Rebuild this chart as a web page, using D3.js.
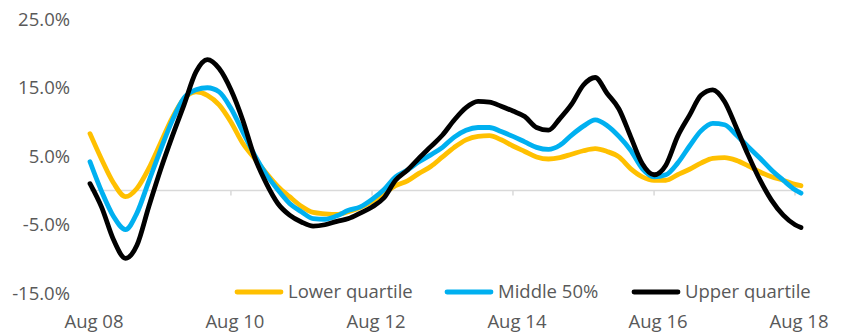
<!DOCTYPE html>
<html>
<head>
<meta charset="utf-8">
<script src="https://cdn.jsdelivr.net/npm/d3@7/dist/d3.min.js"></script>
<style>
  html, body { margin: 0; padding: 0; background: #ffffff; }
  svg { display: block; }
  text { font-family: "Open Sans", "Liberation Sans", sans-serif; fill: #595959; }
</style>
</head>
<body>
<svg id="chart" width="846" height="335"></svg>
<script>
// Annual house price growth by price band, sampled every two months (Aug 2008 onwards)
const monthOffsets = [
  0, 2, 4, 6, 8, 10, 12, 14, 16, 18, 20, 22, 24, 26, 28, 30, 32, 34, 36, 38,
  40, 42, 44, 46, 48, 50, 52, 54, 56, 58, 60, 62, 64, 66, 68, 70, 72, 74, 76, 78,
  80, 82, 84, 86, 88, 90, 92, 94, 96, 98, 100, 102, 104, 106, 108, 110, 112, 114, 116, 118,
  120, 121
];

const lowerQuartile = [
  8.3, 4.5, 1.1, -0.9, 0.3, 3.2, 6.9, 10.6, 13.4, 14.4, 13.9, 12.5, 10.0, 6.9, 4.7, 2.5, 0.6, -0.9, -2.3, -3.2,
  -3.4, -3.5, -3.1, -2.5, -1.6, -0.5, 0.7, 1.4, 2.5, 3.5, 4.9, 6.3, 7.4, 7.9, 8.0, 7.4, 6.5, 5.7, 4.9, 4.6,
  4.8, 5.3, 5.8, 6.1, 5.7, 4.9, 3.2, 2.0, 1.5, 1.5, 2.3, 3.1, 4.0, 4.7, 4.8, 4.4, 3.6, 2.7, 2.0, 1.5,
  0.9, 0.7
];

const middle50 = [
  4.2, -0.2, -3.8, -5.7, -3.3, 1.3, 5.9, 10.2, 13.5, 14.7, 15.0, 14.4, 12.0, 8.6, 5.2, 2.3, 0.1, -1.9, -3.1, -4.1,
  -4.2, -3.7, -2.9, -2.4, -1.3, 0.1, 2.0, 3.0, 4.2, 5.2, 6.3, 7.8, 8.8, 9.2, 9.2, 8.6, 7.9, 7.1, 6.3, 6.0,
  6.6, 8.1, 9.4, 10.3, 9.5, 7.9, 5.9, 3.2, 2.0, 2.3, 4.0, 6.5, 8.7, 9.8, 9.6, 8.1, 6.4, 4.7, 3.0, 1.5,
  0.1, -0.4
];

const upperQuartile = [
  1.0, -2.5, -7.2, -9.9, -8.0, -2.4, 3.0, 7.9, 12.5, 17.3, 19.1, 17.8, 14.7, 10.3, 4.9, 1.0, -1.9, -3.6, -4.6, -5.2,
  -5.0, -4.5, -4.1, -3.3, -2.4, -1.1, 1.5, 3.0, 4.7, 6.4, 8.1, 10.3, 12.1, 13.0, 12.9, 12.3, 11.6, 10.8, 9.2, 8.8,
  10.5, 12.6, 15.4, 16.5, 14.2, 11.9, 7.9, 3.9, 2.3, 3.7, 7.9, 11.0, 13.9, 14.7, 13.0, 9.2, 5.2, 1.5, -1.4, -3.6,
  -5.0, -5.4
];

const seriesNames = ["Lower quartile", "Middle 50%", "Upper quartile"];
const seriesColors = ["#FFC000", "#00B0F0", "#000000"];
const yTickValues = [-15, -5, 5, 15, 25];
const xTickYears = [2008, 2010, 2012, 2014, 2016, 2018];
const xTickLabels = ["Aug 08", "Aug 10", "Aug 12", "Aug 14", "Aug 16", "Aug 18"];

const startDate = new Date(Date.UTC(2008, 7, 1));
const monthDate = m => new Date(Date.UTC(2008, 7 + m, 1));

const series = [lowerQuartile, middle50, upperQuartile].map((vals, i) => ({
  name: seriesNames[i],
  color: seriesColors[i],
  points: vals.map((v, j) => ({ date: monthDate(monthOffsets[j]), value: v }))
}));

const svg = d3.select("#chart");

const x = d3.scaleUtc()
  .domain([startDate, new Date(Date.UTC(2018, 7, 1))])
  .range([90, 795]);

const y = d3.scaleLinear()
  .domain([-15, 25])
  .range([293.25, 19.25]);

// Zero baseline with tick marks every two years
const lastDate = monthDate(monthOffsets[monthOffsets.length - 1]);
svg.append("line")
  .attr("x1", x(startDate)).attr("x2", x(lastDate))
  .attr("y1", y(0)).attr("y2", y(0))
  .attr("stroke", "#D9D9D9").attr("stroke-width", 1.5);

svg.append("g").selectAll("line")
  .data(xTickYears.slice(1))
  .join("line")
  .attr("x1", d => x(new Date(Date.UTC(d, 7, 1))))
  .attr("x2", d => x(new Date(Date.UTC(d, 7, 1))))
  .attr("y1", y(0)).attr("y2", y(0) + 5)
  .attr("stroke", "#D9D9D9").attr("stroke-width", 1.5);

// Y axis labels
svg.append("g").selectAll("text")
  .data(yTickValues)
  .join("text")
  .attr("x", 70)
  .attr("y", d => y(d))
  .attr("dy", "0.35em")
  .attr("text-anchor", "end")
  .style("font-size", "18.5px")
  .text(d => d.toFixed(1) + "%");

// X axis labels along the bottom
svg.append("g").selectAll("text")
  .data(xTickYears)
  .join("text")
  .attr("x", (d, i) => x(new Date(Date.UTC(d, 7, 1))) + 4)
  .attr("y", 322)
  .attr("dy", "0.35em")
  .attr("text-anchor", "middle")
  .style("font-size", "18.5px")
  .text((d, i) => xTickLabels[i]);

// Series lines
const line = d3.line()
  .x(d => x(d.date))
  .y(d => y(d.value))
  .curve(d3.curveMonotoneX);

svg.append("g").selectAll("path")
  .data(series)
  .join("path")
  .attr("d", d => line(d.points))
  .attr("fill", "none")
  .attr("stroke", d => d.color)
  .attr("stroke-width", 4.8)
  .attr("stroke-linejoin", "round")
  .attr("stroke-linecap", "round");

// Legend
const legendX = [235, 445, 632];
const legendY = 292;
const legend = svg.append("g").selectAll("g")
  .data(series)
  .join("g")
  .attr("transform", (d, i) => `translate(${legendX[i]},${legendY})`);

legend.append("line")
  .attr("x1", 2).attr("x2", 46)
  .attr("y1", 0).attr("y2", 0)
  .attr("stroke", d => d.color)
  .attr("stroke-width", 4.8)
  .attr("stroke-linecap", "round");

legend.append("text")
  .attr("x", 53)
  .attr("y", 0)
  .attr("dy", "0.35em")
  .style("font-size", "18.5px")
  .text(d => d.name);
</script>
</body>
</html>
